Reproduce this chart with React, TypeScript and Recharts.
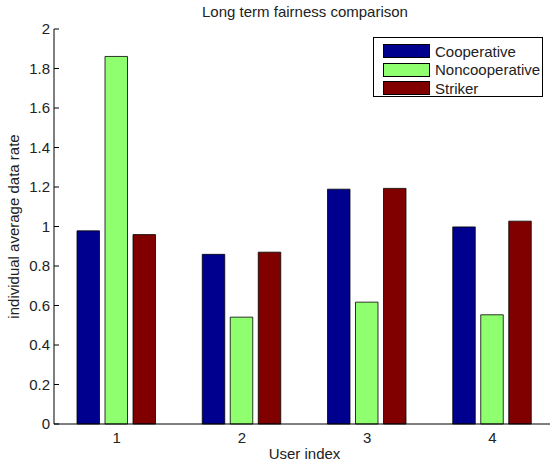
import { BarChart, Bar, XAxis, YAxis } from 'recharts';

const users = ['1', '2', '3', '4'];
const cooperative = [0.978, 0.859, 1.189, 0.998];
const noncooperative = [1.861, 0.541, 0.617, 0.553];
const striker = [0.959, 0.87, 1.193, 1.027];
const yTicks = [0, 0.2, 0.4, 0.6, 0.8, 1, 1.2, 1.4, 1.6, 1.8, 2];

const FONT = '"Liberation Sans", Arial, Helvetica, sans-serif';

const SERIES = [
  { key: 'cooperative', name: 'Cooperative', color: '#00008f' },
  { key: 'noncooperative', name: 'Noncooperative', color: '#8fff70' },
  { key: 'striker', name: 'Striker', color: '#800000' },
];

const data = users.map((user, i) => ({
  user,
  cooperative: cooperative[i],
  noncooperative: noncooperative[i],
  striker: striker[i],
}));

// tick label plus a short inward tick mark, like MATLAB axes
function YTick(props: any) {
  const { x, y, payload } = props;
  const axisX = x + 4;
  return (
    <g>
      <line x1={axisX} x2={axisX + 5} y1={y} y2={y} stroke="#000" strokeWidth={1} />
      <text x={x} y={y} dy={5} textAnchor="end" fontSize={15} fill="#222" fontFamily={FONT}>
        {String(payload.value)}
      </text>
    </g>
  );
}

function YLabel(props: any) {
  const { viewBox } = props;
  const cx = 14;
  const cy = viewBox.y + viewBox.height / 2;
  return (
    <text
      x={cx}
      y={cy}
      transform={`rotate(-90 ${cx} ${cy})`}
      dy={5}
      textAnchor="middle"
      fontSize={15}
      fill="#222"
      fontFamily={FONT}
    >
      individual average data rate
    </text>
  );
}

function XLabel(props: any) {
  const { viewBox } = props;
  return (
    <text
      x={viewBox.x + viewBox.width / 2}
      y={459}
      textAnchor="middle"
      fontSize={15}
      fill="#222"
      fontFamily={FONT}
    >
      User index
    </text>
  );
}

export default function App() {
  return (
    <div
      style={{
        position: 'absolute',
        left: 0,
        top: 0,
        width: 550,
        height: 465,
        overflow: 'hidden',
        background: '#fff',
        fontFamily: FONT,
      }}
    >
      <div
        style={{
          position: 'absolute',
          left: 0,
          width: 610,
          top: 3,
          textAlign: 'center',
          fontSize: 15,
          color: '#222',
        }}
      >
        Long term fairness comparison
      </div>
      <BarChart
        width={556}
        height={465}
        data={data}
        margin={{ top: 29, right: 1, bottom: 0, left: 0 }}
        barSize={22.5}
        barGap={5.5}
      >
        <XAxis
          dataKey="user"
          height={41}
          axisLine={{ stroke: '#000' }}
          tickLine={false}
          tickSize={0}
          tickMargin={8}
          tick={{ fontSize: 15, fill: '#222', fontFamily: FONT }}
          label={<XLabel />}
        />
        <YAxis
          width={54}
          domain={[0, 2]}
          ticks={yTicks}
          interval={0}
          axisLine={{ stroke: '#000' }}
          tickLine={false}
          tickSize={0}
          tickMargin={4}
          tick={<YTick />}
          label={<YLabel />}
        />
        {SERIES.map((s) => (
          <Bar
            key={s.key}
            dataKey={s.key}
            name={s.name}
            fill={s.color}
            stroke="#000"
            strokeWidth={0.8}
            isAnimationActive={false}
          />
        ))}
      </BarChart>
      <div
        style={{
          position: 'absolute',
          left: 373,
          top: 37,
          width: 170,
          height: 60,
          border: '1px solid #000',
          background: '#fff',
          boxSizing: 'border-box',
          paddingTop: 4,
        }}
      >
        {SERIES.map((s) => (
          <div key={s.key} style={{ display: 'flex', alignItems: 'center', height: 18.5 }}>
            <div
              style={{
                marginLeft: 9,
                width: 47,
                height: 14,
                background: s.color,
                border: '1px solid #000',
                boxSizing: 'border-box',
              }}
            />
            <span style={{ marginLeft: 5, fontSize: 15, color: '#222', lineHeight: '15px' }}>{s.name}</span>
          </div>
        ))}
      </div>
    </div>
  );
}
